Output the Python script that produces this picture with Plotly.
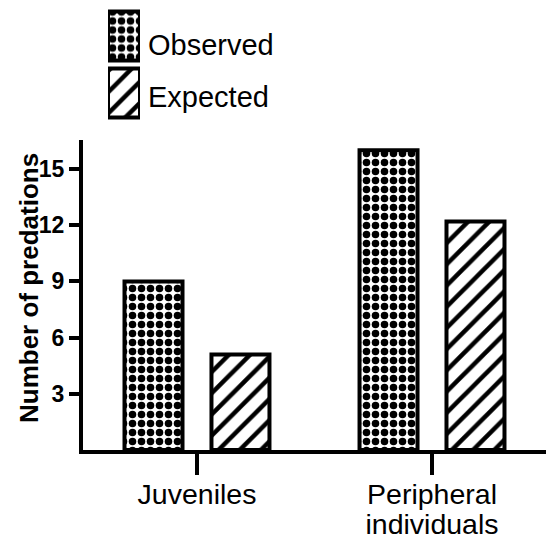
import plotly.graph_objects as go

categories = ["Juveniles", "Peripheral<br>individuals"]
series_names = ["Observed", "Expected"]
observed = [9, 16]
expected = [5.1, 12.2]
y_ticks = [3, 6, 9, 12, 15]
y_title = "Number of predations"

FONT = "Liberation Sans, Arial, sans-serif"
W, H = 546, 541

obs_pattern = dict(shape=".", fgcolor="black", bgcolor="white", size=9, solidity=0.55, fillmode="replace")
exp_pattern = dict(shape="/", fgcolor="black", bgcolor="white", size=15, solidity=0.3, fillmode="replace")
line = dict(color="black", width=4)

# tick labels: small base size sets line spacing, span sets the drawn size
tick_text = ['<span style="font-size:28.5px">' + c.replace("<br>", '</span><br><span style="font-size:28.5px">') + "</span>"
             for c in categories]

fig = go.Figure()
fig.add_trace(go.Bar(x=categories, y=observed, name=series_names[0],
                     marker=dict(color="white", pattern=obs_pattern, line=line),
                     showlegend=False, xaxis="x", yaxis="y"))
fig.add_trace(go.Bar(x=categories, y=expected, name=series_names[1],
                     marker=dict(color="white", pattern=exp_pattern, line=line),
                     showlegend=False, xaxis="x", yaxis="y"))

# legend swatches in a small auxiliary subplot
fig.add_trace(go.Bar(x=[1], y=[1], orientation="h", width=0.86, offset=-0.43, name=series_names[0],
                     marker=dict(color="white", pattern=obs_pattern, line=line),
                     showlegend=False, xaxis="x2", yaxis="y2", hoverinfo="skip"))
fig.add_trace(go.Bar(x=[1], y=[0], orientation="h", width=0.86, offset=-0.43, name=series_names[1],
                     marker=dict(color="white", pattern=exp_pattern, line=line),
                     showlegend=False, xaxis="x2", yaxis="y2", hoverinfo="skip"))

def px_x(p):
    return p / W

def px_y(p):
    return (H - p) / H

fig.update_layout(
    width=W, height=H,
    margin=dict(l=0, r=0, t=0, b=0),
    paper_bgcolor="white", plot_bgcolor="white",
    barmode="group", bargap=0.26, bargroupgap=0.333,
    font=dict(family=FONT, color="black"),
    xaxis=dict(domain=[px_x(83), 1.0], anchor="y", range=[-0.485, 1.485],
               tickmode="array", tickvals=categories, ticktext=tick_text,
               showline=True, linecolor="black", linewidth=4,
               ticks="outside", ticklen=21, tickwidth=4, tickcolor="black",
               tickfont=dict(size=23, family=FONT, color="black"),
               ticklabelstandoff=1,
               showgrid=False, zeroline=False, automargin=False),
    yaxis=dict(domain=[px_y(450), px_y(140)], anchor="x", range=[0, 16.55],
               tickvals=y_ticks, showline=True, linecolor="black", linewidth=4,
               ticks="outside", ticklen=10, tickwidth=4, tickcolor="black",
               tickfont=dict(size=23, family=FONT, color="black", weight="bold"),
               showgrid=False, zeroline=False, automargin=False),
    xaxis2=dict(domain=[px_x(108), px_x(140)], anchor="y2", range=[0, 1],
                visible=False, fixedrange=True),
    yaxis2=dict(domain=[px_y(121.5), px_y(7.5)], anchor="x2", range=[-0.5, 1.5],
                visible=False, fixedrange=True),
    annotations=[
        dict(text=y_title, x=px_x(29), y=px_y(288), xref="paper", yref="paper",
             textangle=-90, showarrow=False, xanchor="center", yanchor="middle",
             font=dict(size=26, family=FONT, color="black", weight="bold")),
        dict(text=series_names[0], x=px_x(146), y=px_y(45), xref="paper", yref="paper",
             showarrow=False, xanchor="left", yanchor="middle",
             font=dict(size=29, family=FONT, color="black")),
        dict(text=series_names[1], x=px_x(146), y=px_y(97), xref="paper", yref="paper",
             showarrow=False, xanchor="left", yanchor="middle",
             font=dict(size=29, family=FONT, color="black")),
    ],
)

fig.write_html("out.html", config={"displayModeBar": False},
               post_script="document.body.style.margin='0';")
